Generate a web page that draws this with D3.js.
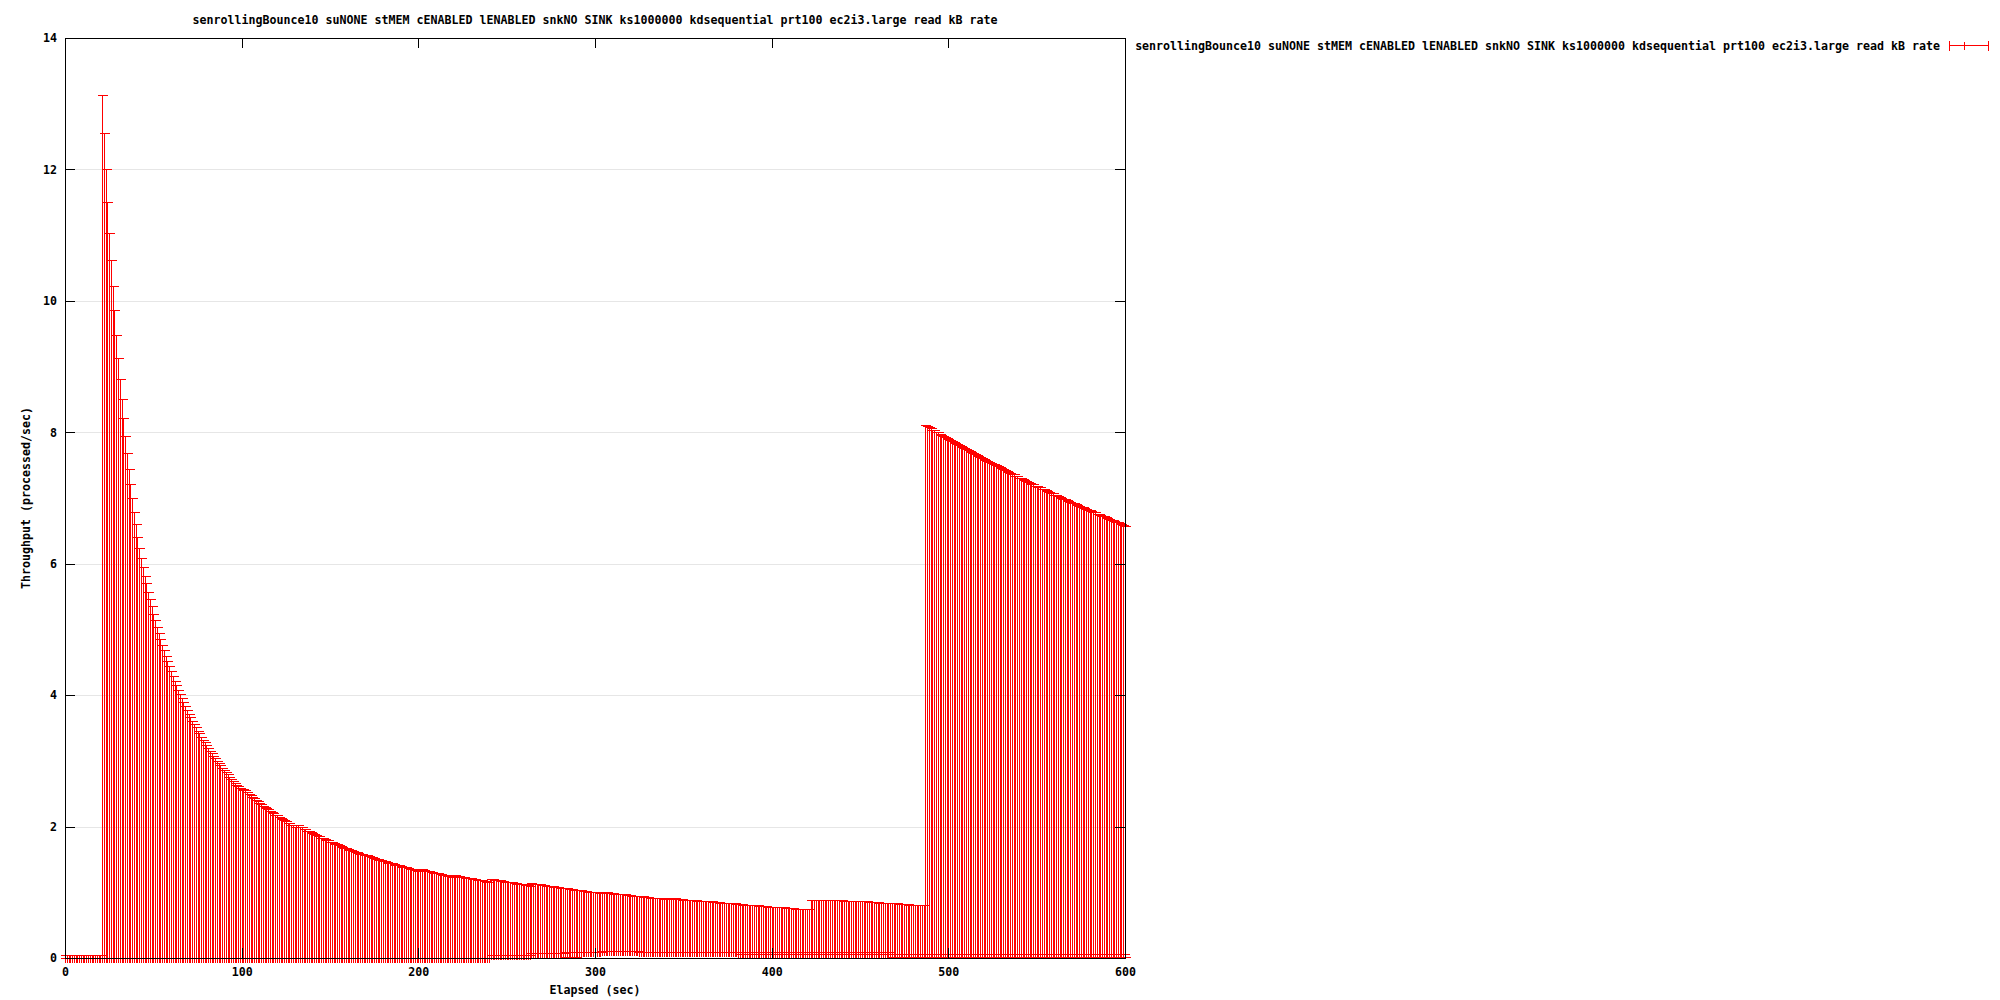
<!DOCTYPE html>
<html>
<head>
<meta charset="utf-8">
<script src="https://cdn.jsdelivr.net/npm/d3@7"></script>
<style>
  body { margin: 0; background: #fff; }
  svg text { font-family: "DejaVu Sans Mono", monospace; font-weight: bold; font-size: 11.63px; fill: #000; }
</style>
</head>
<body>
<script>
const chartTitle = 'senrollingBounce10 suNONE stMEM cENABLED lENABLED snkNO SINK ks1000000 kdsequential prt100 ec2i3.large read kB rate'
const seriesName = 'senrollingBounce10 suNONE stMEM cENABLED lENABLED snkNO SINK ks1000000 kdsequential prt100 ec2i3.large read kB rate'
const xLabel = 'Elapsed (sec)'
const yLabel = 'Throughput (processed/sec)'
const xTicks = [0, 100, 200, 300, 400, 500, 600]
const yTicks = [0, 2, 4, 6, 8, 10, 12, 14]

// elapsed seconds of every sample
const elapsed = [
  0,1,2,3,4,5,6,7,8,9,10,11,12,13,14,15,16,17,18,19,
  20,21,22,23,24,25,26,27,28,29,30,31,32,33,34,35,36,37,38,39,
  40,41,42,43,44,45,46,47,48,49,50,51,52,53,54,55,56,57,58,59,
  60,61,62,63,64,65,66,67,68,69,70,71,72,73,74,75,76,77,78,79,
  80,81,82,83,84,85,86,87,88,89,90,91,92,93,94,95,96,97,98,99,
  100,101,102,103,104,105,106,107,108,109,110,111,112,113,114,115,116,117,118,119,
  120,121,122,123,124,125,126,127,128,129,130,131,132,133,134,135,136,137,138,139,
  140,141,142,143,144,145,146,147,148,149,150,151,152,153,154,155,156,157,158,159,
  160,161,162,163,164,165,166,167,168,169,170,171,172,173,174,175,176,177,178,179,
  180,181,182,183,184,185,186,187,188,189,190,191,192,193,194,195,196,197,198,199,
  200,201,202,203,204,205,206,207,208,209,210,211,212,213,214,215,216,217,218,219,
  220,221,222,223,224,225,226,227,228,229,230,231,232,233,234,235,236,237,238,239,
  240,241,242,243,244,245,246,247,248,249,250,251,252,253,254,255,256,257,258,259,
  260,261,262,263,264,265,266,267,268,269,270,271,272,273,274,275,276,277,278,279,
  280,281,282,283,284,285,286,287,288,289,290,291,292,293,294,295,296,297,298,299,
  300,301,302,303,304,305,306,307,308,309,310,311,312,313,314,315,316,317,318,319,
  320,321,322,323,324,325,326,327,328,329,330,331,332,333,334,335,336,337,338,339,
  340,341,342,343,344,345,346,347,348,349,350,351,352,353,354,355,356,357,358,359,
  360,361,362,363,364,365,366,367,368,369,370,371,372,373,374,375,376,377,378,379,
  380,381,382,383,384,385,386,387,388,389,390,391,392,393,394,395,396,397,398,399,
  400,401,402,403,404,405,406,407,408,409,410,411,412,413,414,415,416,417,418,419,
  420,421,422,423,424,425,426,427,428,429,430,431,432,433,434,435,436,437,438,439,
  440,441,442,443,444,445,446,447,448,449,450,451,452,453,454,455,456,457,458,459,
  460,461,462,463,464,465,466,467,468,469,470,471,472,473,474,475,476,477,478,479,
  480,481,482,483,484,485,486,487,488,489,490,491,492,493,494,495,496,497,498,499,
  500,501,502,503,504,505,506,507,508,509,510,511,512,513,514,515,516,517,518,519,
  520,521,522,523,524,525,526,527,528,529,530,531,532,533,534,535,536,537,538,539,
  540,541,542,543,544,545,546,547,548,549,550,551,552,553,554,555,556,557,558,559,
  560,561,562,563,564,565,566,567,568,569,570,571,572,573,574,575,576,577,578,579,
  580,581,582,583,584,585,586,587,588,589,590,591,592,593,594,595,596,597,598,599,
  600
]

// upper end of each error bar
const rateHigh = [
  /* 0 */   0.05,0.05,0.05,0.05,0.05,0.05,0.05,0.05,0.05,0.05,
  /* 10 */  0.05,0.05,0.05,0.05,0.05,0.05,0.05,0.05,0.05,0.05,
  /* 20 */  0.05,13.14,12.55,12.00,11.50,11.04,10.62,10.22,9.86,9.48,
  /* 30 */  9.13,8.81,8.50,8.21,7.94,7.69,7.44,7.22,7.00,6.79,
  /* 40 */  6.60,6.41,6.24,6.09,5.95,5.82,5.70,5.57,5.46,5.35,
  /* 50 */  5.24,5.14,5.04,4.94,4.85,4.76,4.68,4.60,4.52,4.44,
  /* 60 */  4.37,4.29,4.22,4.15,4.08,4.02,3.96,3.89,3.84,3.78,
  /* 70 */  3.72,3.67,3.61,3.56,3.51,3.46,3.42,3.37,3.32,3.28,
  /* 80 */  3.24,3.20,3.15,3.12,3.08,3.04,3.00,2.96,2.93,2.89,
  /* 90 */  2.86,2.83,2.80,2.76,2.73,2.70,2.67,2.64,2.62,2.59,
  /* 100 */ 2.56,2.57,2.55,2.52,2.50,2.48,2.45,2.43,2.41,2.39,
  /* 110 */ 2.36,2.34,2.32,2.30,2.28,2.26,2.24,2.22,2.20,2.18,
  /* 120 */ 2.17,2.15,2.13,2.11,2.10,2.08,2.06,2.05,2.03,2.02,
  /* 130 */ 2.00,2.03,2.02,2.00,1.99,1.97,1.96,1.94,1.93,1.91,
  /* 140 */ 1.90,1.89,1.87,1.86,1.85,1.83,1.82,1.81,1.80,1.79,
  /* 150 */ 1.77,1.76,1.75,1.74,1.73,1.72,1.71,1.69,1.68,1.67,
  /* 160 */ 1.66,1.65,1.64,1.63,1.62,1.61,1.60,1.59,1.58,1.57,
  /* 170 */ 1.56,1.56,1.55,1.54,1.53,1.52,1.51,1.50,1.49,1.49,
  /* 180 */ 1.48,1.47,1.46,1.45,1.45,1.44,1.43,1.42,1.41,1.41,
  /* 190 */ 1.40,1.39,1.39,1.38,1.37,1.36,1.36,1.35,1.34,1.34,
  /* 200 */ 1.33,1.35,1.35,1.34,1.33,1.33,1.32,1.31,1.31,1.30,
  /* 210 */ 1.30,1.29,1.28,1.28,1.27,1.27,1.26,1.25,1.25,1.24,
  /* 220 */ 1.26,1.26,1.25,1.25,1.24,1.24,1.23,1.22,1.22,1.21,
  /* 230 */ 1.21,1.20,1.20,1.19,1.19,1.18,1.18,1.17,1.17,1.16,
  /* 240 */ 1.16,1.20,1.20,1.19,1.19,1.18,1.18,1.17,1.17,1.16,
  /* 250 */ 1.16,1.16,1.15,1.15,1.14,1.14,1.13,1.13,1.12,1.12,
  /* 260 */ 1.12,1.11,1.11,1.10,1.14,1.13,1.13,1.12,1.12,1.12,
  /* 270 */ 1.11,1.11,1.10,1.10,1.09,1.09,1.09,1.08,1.08,1.08,
  /* 280 */ 1.07,1.07,1.06,1.06,1.06,1.05,1.05,1.05,1.04,1.04,
  /* 290 */ 1.03,1.03,1.03,1.02,1.02,1.02,1.01,1.01,1.01,1.00,
  /* 300 */ 1.00,1.00,0.99,0.99,1.01,1.00,1.00,1.00,0.99,0.99,
  /* 310 */ 0.99,0.98,0.98,0.98,0.97,0.97,0.97,0.97,0.96,0.96,
  /* 320 */ 0.96,0.95,0.95,0.95,0.94,0.94,0.94,0.94,0.93,0.93,
  /* 330 */ 0.93,0.92,0.92,0.92,0.92,0.91,0.91,0.91,0.91,0.90,
  /* 340 */ 0.90,0.92,0.92,0.91,0.91,0.91,0.90,0.90,0.90,0.90,
  /* 350 */ 0.89,0.89,0.89,0.89,0.88,0.88,0.88,0.88,0.87,0.87,
  /* 360 */ 0.87,0.87,0.86,0.86,0.86,0.86,0.86,0.85,0.85,0.85,
  /* 370 */ 0.85,0.84,0.84,0.84,0.84,0.83,0.83,0.83,0.83,0.83,
  /* 380 */ 0.82,0.82,0.82,0.82,0.81,0.81,0.81,0.81,0.81,0.80,
  /* 390 */ 0.80,0.80,0.80,0.79,0.79,0.79,0.79,0.79,0.78,0.78,
  /* 400 */ 0.78,0.78,0.78,0.77,0.77,0.77,0.77,0.77,0.76,0.76,
  /* 410 */ 0.76,0.76,0.76,0.75,0.75,0.75,0.75,0.75,0.74,0.74,
  /* 420 */ 0.74,0.74,0.88,0.88,0.88,0.88,0.88,0.88,0.88,0.88,
  /* 430 */ 0.88,0.88,0.88,0.88,0.88,0.88,0.88,0.88,0.88,0.88,
  /* 440 */ 0.88,0.87,0.87,0.87,0.87,0.87,0.87,0.87,0.87,0.87,
  /* 450 */ 0.86,0.86,0.86,0.86,0.86,0.85,0.85,0.85,0.85,0.85,
  /* 460 */ 0.85,0.84,0.84,0.84,0.84,0.84,0.83,0.83,0.83,0.83,
  /* 470 */ 0.83,0.83,0.82,0.82,0.82,0.82,0.82,0.82,0.81,0.81,
  /* 480 */ 0.81,0.81,0.81,0.81,0.80,0.80,0.80,8.11,8.09,8.08,
  /* 490 */ 8.06,8.04,8.03,8.01,8.00,7.98,7.96,7.95,7.93,7.92,
  /* 500 */ 7.90,7.88,7.87,7.85,7.84,7.82,7.81,7.79,7.78,7.76,
  /* 510 */ 7.75,7.73,7.71,7.70,7.68,7.67,7.66,7.64,7.63,7.61,
  /* 520 */ 7.60,7.58,7.57,7.55,7.54,7.52,7.51,7.50,7.48,7.47,
  /* 530 */ 7.45,7.44,7.42,7.41,7.40,7.38,7.37,7.36,7.34,7.33,
  /* 540 */ 7.31,7.30,7.29,7.27,7.26,7.25,7.23,7.22,7.21,7.19,
  /* 550 */ 7.18,7.17,7.16,7.14,7.13,7.12,7.10,7.09,7.08,7.07,
  /* 560 */ 7.05,7.04,7.03,7.02,7.00,6.99,6.98,6.97,6.95,6.94,
  /* 570 */ 6.93,6.92,6.91,6.89,6.88,6.87,6.86,6.85,6.83,6.82,
  /* 580 */ 6.81,6.80,6.79,6.78,6.76,6.75,6.74,6.73,6.72,6.71,
  /* 590 */ 6.69,6.68,6.67,6.66,6.65,6.64,6.63,6.62,6.61,6.59,
  /* 600 */ 6.58
]

// lower end of each error bar
const rateLow = [
  /* 0 */   0,0,0,0,0,0,0,0,0,0,0,0,0,0,0,0,0,0,0,0,
  /* 20 */  0,0,0,0,0,0,0,0,0,0,0,0,0,0,0,0,0,0,0,0,
  /* 40 */  0,0,0,0,0,0,0,0,0,0,0,0,0,0,0,0,0,0,0,0,
  /* 60 */  0,0,0,0,0,0,0,0,0,0,0,0,0,0,0,0,0,0,0,0,
  /* 80 */  0,0,0,0,0,0,0,0,0,0,0,0,0,0,0,0,0,0,0,0,
  /* 100 */ 0,0,0,0,0,0,0,0,0,0,0,0,0,0,0,0,0,0,0,0,
  /* 120 */ 0,0,0,0,0,0,0,0,0,0,0,0,0,0,0,0,0,0,0,0,
  /* 140 */ 0,0,0,0,0,0,0,0,0,0,0,0,0,0,0,0,0,0,0,0,
  /* 160 */ 0,0,0,0,0,0,0,0,0,0,0,0,0,0,0,0,0,0,0,0,
  /* 180 */ 0,0,0,0,0,0,0,0,0,0,0,0,0,0,0,0,0,0,0,0,
  /* 200 */ 0,0,0,0,0,0,0,0,0,0,0,0,0,0,0,0,0,0,0,0,
  /* 220 */ 0,0,0,0,0,0,0,0,0,0,0,0,0,0,0,0,0,0,0,0,
  /* 240 */ 0,0.05,0.05,0.05,0.05,0.05,0.05,0.05,0.05,0.05,
  /* 250 */ 0.05,0.05,0.05,0.05,0.05,0.05,0.05,0.05,0.05,0.05,
  /* 260 */ 0.05,0.05,0.05,0.05,0.08,0.08,0.08,0.08,0.08,0.08,
  /* 270 */ 0.08,0.08,0.08,0.08,0.08,0.08,0.08,0.08,0.08,0.08,
  /* 280 */ 0.08,0.08,0.08,0.02,0.02,0.02,0.02,0.02,0.02,0.02,
  /* 290 */ 0.095,0.095,0.095,0.095,0.095,0.095,0.095,0.095,0.095,0.095,
  /* 300 */ 0.095,0.095,0.095,0.095,0.11,0.11,0.11,0.11,0.11,0.11,
  /* 310 */ 0.11,0.11,0.11,0.11,0.11,0.11,0.11,0.11,0.11,0.11,
  /* 320 */ 0.11,0.11,0.11,0.11,0.11,0.095,0.095,0.095,0.095,0.095,
  /* 330 */ 0.095,0.095,0.095,0.095,0.095,0.095,0.095,0.095,0.095,0.095,
  /* 340 */ 0.095,0.095,0.095,0.095,0.095,0.095,0.095,0.095,0.095,0.095,
  /* 350 */ 0.095,0.095,0.095,0.095,0.095,0.095,0.095,0.095,0.095,0.095,
  /* 360 */ 0.095,0.095,0.095,0.095,0.095,0.095,0.095,0.095,0.095,0.095,
  /* 370 */ 0.095,0.095,0.095,0.095,0.095,0.095,0.095,0.095,0.095,0.095,
  /* 380 */ 0.095,0.095,0.095,0.095,0.095,0.095,0.095,0.095,0.095,0.095,
  /* 390 */ 0.095,0.095,0.095,0.095,0.095,0.095,0.095,0.095,0.095,0.095,
  /* 400 */ 0.095,0.095,0.095,0.095,0.095,0.095,0.095,0.095,0.095,0.095,
  /* 410 */ 0.095,0.095,0.095,0.095,0.095,0.095,0.095,0.095,0.095,0.095,
  /* 420 */ 0.095,0.095,0.095,0.095,0.095,0.095,0.095,0.095,0.095,0.095,
  /* 430 */ 0.095,0.095,0.095,0.095,0.095,0.095,0.095,0.095,0.095,0.095,
  /* 440 */ 0.095,0.095,0.095,0.095,0.095,0.095,0.095,0.095,0.095,0.095,
  /* 450 */ 0.095,0.095,0.095,0.095,0.095,0.095,0.095,0.095,0.095,0.095,
  /* 460 */ 0.095,0.095,0.095,0.095,0.095,0.095,0.095,0.095,0.02,0.02,
  /* 470 */ 0.02,0.02,0.02,0.02,0.02,0.02,0.02,0.02,0.02,0.02,
  /* 480 */ 0.02,0.02,0.02,0.02,0.02,0.02,0.02,0.02,0.02,0.02,
  /* 490 */ 0.02,0.02,0.02,0.02,0.02,0.02,0.02,0.02,0.02,0.02,
  /* 500 */ 0.02,0.02,0.02,0.02,0.02,0.02,0.02,0.02,0.02,0.02,
  /* 510 */ 0.02,0.02,0.02,0.02,0.02,0.02,0.02,0.02,0.02,0.02,
  /* 520 */ 0.02,0.02,0.02,0.02,0.02,0.02,0.02,0.02,0.02,0.02,
  /* 530 */ 0.02,0.02,0.02,0.02,0.02,0.02,0.02,0.02,0.02,0.02,
  /* 540 */ 0.02,0.02,0.02,0.02,0.02,0.02,0.02,0.02,0.02,0.02,
  /* 550 */ 0.02,0.02,0.02,0.02,0.02,0.02,0.02,0.02,0.02,0.02,
  /* 560 */ 0.02,0.02,0.02,0.02,0.02,0.02,0.02,0.02,0.02,0.02,
  /* 570 */ 0.02,0.02,0.02,0.02,0.02,0.02,0.02,0.02,0.02,0.02,
  /* 580 */ 0.02,0.02,0.02,0.02,0.02,0.02,0.02,0.02,0.02,0.02,
  /* 590 */ 0.02,0.02,0.02,0.02,0.02,0.02,0.02,0.02,0.02,0.02,
  /* 600 */ 0.02
]

// point value of each sample
const rate = [
  /* 0 */   0,0,0,0,0,0,0,0,0,0,0,0,0,0,0,0,0,0,0,0,
  /* 20 */  0,0,0,0,0,0,0,0,0,0,0,0,0,0,0,0,0,0,0,0,
  /* 40 */  0,0,0,0,0,0,0,0,0,0,0,0,0,0,0,0,0,0,0,0,
  /* 60 */  0,0,0,0,0,0,0,0,0,0,0,0,0,0,0,0,0,0,0,0,
  /* 80 */  0,0,0,0,0,0,0,0,0,0,0,0,0,0,0,0,0,0,0,0,
  /* 100 */ 0,0,0,0,0,0,0,0,0,0,0,0,0,0,0,0,0,0,0,0,
  /* 120 */ 0,0,0,0,0,0,0,0,0,0,0,0,0,0,0,0,0,0,0,0,
  /* 140 */ 0,0,0,0,0,0,0,0,0,0,0,0,0,0,0,0,0,0,0,0,
  /* 160 */ 0,0,0,0,0,0,0,0,0,0,0,0,0,0,0,0,0,0,0,0,
  /* 180 */ 0,0,0,0,0,0,0,0,0,0,0,0,0,0,0,0,0,0,0,0,
  /* 200 */ 0,0,0,0,0,0,0,0,0,0,0,0,0,0,0,0,0,0,0,0,
  /* 220 */ 0,0,0,0,0,0,0,0,0,0,0,0,0,0,0,0,0,0,0,0,
  /* 240 */ 0,0.05,0.05,0.05,0.05,0.05,0.05,0.05,0.05,0.05,
  /* 250 */ 0.05,0.05,0.05,0.05,0.05,0.05,0.05,0.05,0.05,0.05,
  /* 260 */ 0.05,0.05,0.05,0.05,0.08,0.08,0.08,0.08,0.08,0.08,
  /* 270 */ 0.08,0.08,0.08,0.08,0.08,0.08,0.08,0.08,0.08,0.08,
  /* 280 */ 0.08,0.08,0.08,0.095,0.095,0.095,0.095,0.095,0.095,0.095,
  /* 290 */ 0.095,0.095,0.095,0.095,0.095,0.095,0.095,0.095,0.095,0.095,
  /* 300 */ 0.095,0.095,0.095,0.095,0.11,0.11,0.11,0.11,0.11,0.11,
  /* 310 */ 0.11,0.11,0.11,0.11,0.11,0.11,0.11,0.11,0.11,0.11,
  /* 320 */ 0.11,0.11,0.11,0.11,0.11,0.095,0.095,0.095,0.095,0.095,
  /* 330 */ 0.095,0.095,0.095,0.095,0.095,0.095,0.095,0.095,0.095,0.095,
  /* 340 */ 0.095,0.095,0.095,0.095,0.095,0.095,0.095,0.095,0.095,0.095,
  /* 350 */ 0.095,0.095,0.095,0.095,0.095,0.095,0.095,0.095,0.095,0.095,
  /* 360 */ 0.095,0.095,0.095,0.095,0.095,0.095,0.095,0.095,0.095,0.095,
  /* 370 */ 0.095,0.095,0.095,0.095,0.095,0.095,0.095,0.095,0.095,0.095,
  /* 380 */ 0.095,0.06,0.06,0.06,0.06,0.06,0.06,0.06,0.06,0.06,
  /* 390 */ 0.06,0.06,0.06,0.06,0.06,0.06,0.06,0.06,0.06,0.06,
  /* 400 */ 0.06,0.06,0.06,0.06,0.06,0.06,0.06,0.06,0.06,0.06,
  /* 410 */ 0.06,0.06,0.06,0.06,0.06,0.06,0.06,0.06,0.06,0.06,
  /* 420 */ 0.06,0.06,0.06,0.06,0.06,0.06,0.06,0.06,0.06,0.06,
  /* 430 */ 0.06,0.06,0.06,0.06,0.06,0.06,0.06,0.06,0.06,0.06,
  /* 440 */ 0.06,0.06,0.06,0.06,0.06,0.06,0.06,0.06,0.06,0.06,
  /* 450 */ 0.06,0.06,0.06,0.06,0.06,0.06,0.06,0.06,0.06,0.06,
  /* 460 */ 0.06,0.06,0.06,0.06,0.06,0.06,0.06,0.06,0.06,0.06,
  /* 470 */ 0.06,0.06,0.06,0.06,0.06,0.06,0.06,0.06,0.06,0.06,
  /* 480 */ 0.06,0.06,0.06,0.06,0.06,0.06,0.06,0.06,0.06,0.06,
  /* 490 */ 0.06,0.06,0.06,0.06,0.06,0.06,0.06,0.06,0.06,0.06,
  /* 500 */ 0.06,0.06,0.06,0.06,0.06,0.06,0.06,0.06,0.06,0.06,
  /* 510 */ 0.06,0.06,0.06,0.06,0.06,0.06,0.06,0.06,0.06,0.06,
  /* 520 */ 0.06,0.06,0.06,0.06,0.06,0.06,0.06,0.06,0.06,0.06,
  /* 530 */ 0.06,0.06,0.06,0.06,0.06,0.06,0.06,0.06,0.06,0.06,
  /* 540 */ 0.06,0.06,0.06,0.06,0.06,0.06,0.06,0.06,0.06,0.06,
  /* 550 */ 0.06,0.06,0.06,0.06,0.06,0.06,0.06,0.06,0.06,0.06,
  /* 560 */ 0.06,0.06,0.06,0.06,0.06,0.06,0.06,0.06,0.06,0.06,
  /* 570 */ 0.06,0.06,0.06,0.06,0.06,0.06,0.06,0.06,0.06,0.06,
  /* 580 */ 0.06,0.06,0.06,0.06,0.06,0.06,0.06,0.06,0.06,0.06,
  /* 590 */ 0.06,0.06,0.06,0.06,0.06,0.06,0.06,0.06,0.06,0.06,
  /* 600 */ 0.06
]

var width = 2000,
    height = 1000
var plot = {left: 65, right: 1125, top: 38, bottom: 958}
var red = '#ff0000'

var svg = d3.select('body').append('svg')
    .attr('width', width)
    .attr('height', height)
    .style('background', '#fff')

var x = d3.scaleLinear().domain([0, 600]).range([plot.left, plot.right])
var y = d3.scaleLinear().domain([0, 14]).range([plot.bottom, plot.top])
const px = v => Math.round(x(v)) + 0.5
const py = v => Math.round(y(v)) + 0.5

// light horizontal grid
svg.append('g')
    .attr('shape-rendering', 'crispEdges')
    .selectAll('line')
    .data(yTicks.slice(1, -1)).enter()
    .append('line')
    .attr('x1', plot.left)
    .attr('x2', plot.right)
    .attr('y1', d => py(d))
    .attr('y2', d => py(d))
    .attr('stroke', '#e6e6e6')

const rows = elapsed.map((t, i) => ({t: t, lo: rateLow[i], hi: rateHigh[i], v: rate[i]}))

// error bars: vertical line, caps at both ends, "+" at the point
svg.append('g')
    .attr('class', 'series')
    .attr('fill', 'none')
    .attr('stroke', red)
    .attr('shape-rendering', 'crispEdges')
    .selectAll('path')
    .data(rows).enter()
    .append('path')
    .attr('d', d => {
        let cx = px(d.t), lo = py(d.lo), hi = py(d.hi), v = py(d.v)
        return `M${cx},${lo}V${hi}` +
            `M${cx - 5},${lo}H${cx + 5}M${cx - 5},${hi}H${cx + 5}` +
            `M${cx - 4},${v}H${cx + 4}M${cx},${v - 4}V${v + 4}`
    })

// axes, ticks pointing inward on all four sides
const tidy = g => {
    g.select('.domain').remove()
    g.attr('shape-rendering', 'crispEdges')
}
svg.append('g')
    .attr('transform', `translate(${plot.left},0)`)
    .call(d3.axisLeft(y).tickValues(yTicks).tickSizeInner(-10).tickSizeOuter(0).tickPadding(8).tickFormat(d3.format('d')))
    .call(tidy)
svg.append('g')
    .attr('transform', `translate(${plot.right},0)`)
    .call(d3.axisRight(y).tickValues(yTicks).tickSizeInner(-10).tickSizeOuter(0).tickFormat(''))
    .call(tidy)
svg.append('g')
    .attr('transform', `translate(0,${plot.bottom})`)
    .call(d3.axisBottom(x).tickValues(xTicks).tickSizeInner(-10).tickSizeOuter(0).tickPadding(10).tickFormat(d3.format('d')))
    .call(tidy)
svg.append('g')
    .attr('transform', `translate(0,${plot.top})`)
    .call(d3.axisTop(x).tickValues(xTicks).tickSizeInner(-10).tickSizeOuter(0).tickFormat(''))
    .call(tidy)

svg.append('rect')
    .attr('x', plot.left + 0.5)
    .attr('y', plot.top + 0.5)
    .attr('width', plot.right - plot.left)
    .attr('height', plot.bottom - plot.top)
    .attr('fill', 'none')
    .attr('stroke', '#000')
    .attr('shape-rendering', 'crispEdges')

// labels
svg.append('text')
    .attr('x', (plot.left + plot.right) / 2)
    .attr('y', 20)
    .attr('dy', '0.35em')
    .attr('text-anchor', 'middle')
    .text(chartTitle)

svg.append('text')
    .attr('x', (plot.left + plot.right) / 2)
    .attr('y', 990)
    .attr('dy', '0.35em')
    .attr('text-anchor', 'middle')
    .text(xLabel)

svg.append('text')
    .attr('transform', `translate(26,${(plot.top + plot.bottom) / 2}) rotate(-90)`)
    .attr('dy', '0.35em')
    .attr('text-anchor', 'middle')
    .text(yLabel)

// legend
let legend = svg.append('g')
    .attr('transform', 'translate(1940,45.5)')
legend.append('text')
    .attr('text-anchor', 'end')
    .attr('dy', '0.35em')
    .text(seriesName)
legend.append('path')
    .attr('d', 'M9,0H48M9,-5V5M48,-5V5M24.5,-4V4')
    .attr('fill', 'none')
    .attr('stroke', red)
    .attr('shape-rendering', 'crispEdges')
</script>
</body>
</html>
